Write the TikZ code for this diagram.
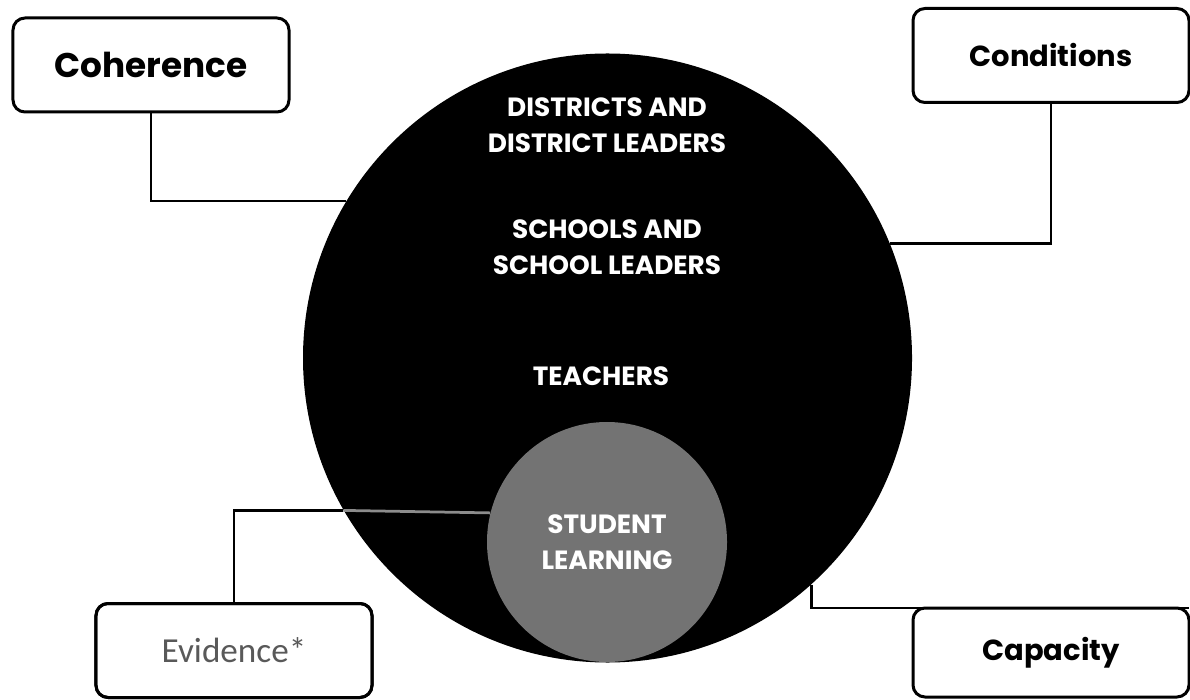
\documentclass[tikz,border=0pt]{standalone}
\usepackage{fontspec}
\newfontfamily\gothic{Poppins}
\newfontfamily\calibri[Color=595959]{Carlito}
\tikzset{
  box/.style={draw=black, rounded corners=2.4mm, line width=0.6mm, minimum width=55.2mm,
    minimum height=18.8mm, inner sep=0pt, outer sep=0pt,
    font=\gothic\bfseries\fontsize{16.5}{20}\selectfont},
  link/.style={line width=0.55mm},
  caps/.style={text=white, align=center, inner sep=0pt,
    font=\gothic\bfseries\fontsize{15}{20.5}\selectfont},
}
\begin{document}
\begin{tikzpicture}[x=0.2mm,y=-0.2mm]
  \useasboundingbox (0,0) rectangle (1190,700);
  \node[circle, fill=black, minimum size=121.8mm, inner sep=0pt] (system) at (607.5,358) {};
  \node[circle, fill=black!55, minimum size=48mm, caps] (learning) at (607,542) {STUDENT\\LEARNING};
  \node[caps] (districts) at (607,125) {DISTRICTS AND\\DISTRICT LEADERS};
  \node[caps] (schools) at (607,247) {SCHOOLS AND\\SCHOOL LEADERS};
  \node[caps] (teachers) at (601,376) {TEACHERS};
  \node[box, font=\gothic\bfseries\fontsize{19.5}{22}\selectfont] (coherence) at (151,65) {Coherence};
  \node[box] (conditions) at (1051,55.5) {Conditions};
  \node[box, minimum height=17.8mm] (capacity) at (1051,652.5) {Capacity};
  \node[box, font=\calibri\fontsize{20}{24}\selectfont] (evidence) at (234,650.5) {Evidence*};
  % grey label text greys the frame too, so stroke it again
  \draw[line width=0.6mm, rounded corners=2.4mm] (evidence.south west) rectangle (evidence.north east);
  \draw[link] (coherence.south) |- (system.149.4);
  \draw[link] (conditions.south) |- (system.22.6);
  \draw[link] (evidence.north) |- (system.210.6);
  \draw[link, draw=black!45] (system.210.6) -- (learning.166);
  \draw[link] (system.-48.7) |- (capacity.north east);
\end{tikzpicture}
\end{document}
